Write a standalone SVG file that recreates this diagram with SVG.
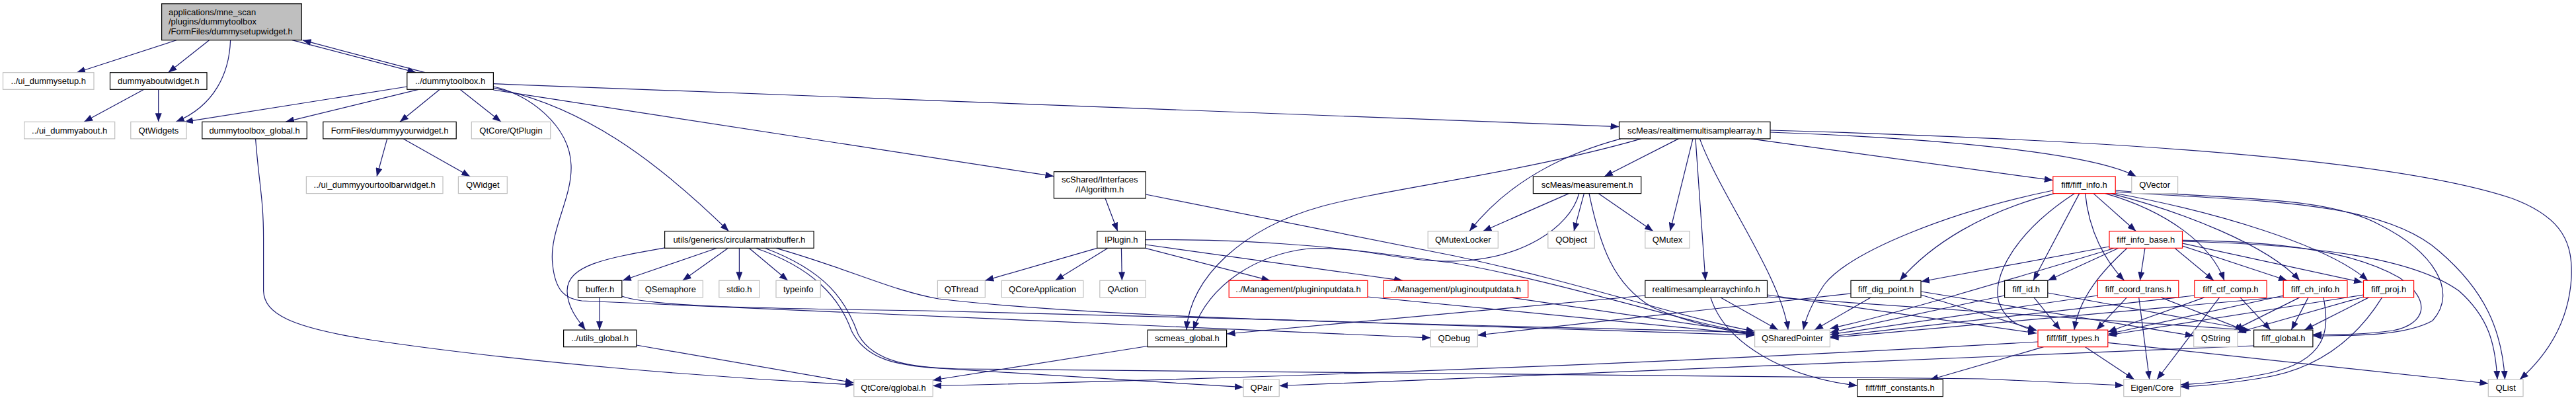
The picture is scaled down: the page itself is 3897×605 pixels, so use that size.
<svg xmlns="http://www.w3.org/2000/svg" width="3897" height="605" viewBox="0 0 3897 605">
<style>
.e{fill:none;stroke:#191970;stroke-width:1.2;marker-end:url(#ah)}
rect{fill:#fff;stroke-width:1.2}
.b{stroke:#000}
.gy{stroke:#bfbfbf}
.rd{stroke:#ff0000}
.main{fill:#bfbfbf;stroke:#000}
text{font-family:"Liberation Sans",Arial,sans-serif;font-size:13px;fill:#000}
.c{text-anchor:middle}
</style>
<defs>
<marker id="ah" viewBox="0 0 13 10" refX="13" refY="5" markerWidth="13" markerHeight="10" markerUnits="userSpaceOnUse" orient="auto"><path d="M0,0 L13,5 L0,10 z" fill="#191970"/></marker>
</defs>
<rect x="0" y="0" width="3897" height="605" style="fill:#fff;stroke:none"/>
<g id="connectors">
<path class="e" d="M267,60.7 L116,109.7"/>
<path class="e" d="M316.5,60.7 L254.5,109.7"/>
<path class="e" d="M348.6,60.7 C347,110 325,160 266,184.3"/>
<path class="e" d="M442,60.7 L629.4,109.7"/>
<path class="e" d="M642.8,109.7 L457.6,60.7"/>
<path class="e" d="M217.8,135.3 L127.2,184.3"/>
<path class="e" d="M239.7,135.3 L239.7,184.3"/>
<path class="e" d="M616,131 L279,184.3"/>
<path class="e" d="M633,135.3 L432,184.3"/>
<path class="e" d="M665.3,135.3 L605,184.3"/>
<path class="e" d="M696,135.3 L758,184.3"/>
<path class="e" d="M746.4,126.7 L2449.5,191.6"/>
<path class="e" d="M746.4,133 C880,160 990,240 1102.5,349.7"/>
<path class="e" d="M746.4,136 L1594.4,266.7"/>
<path class="e" d="M746.4,131 C800,142 862,190 864,250 C866,300 830,350 836,400 C840,440 855,452 880,455 L2164.3,511"/>
<path class="e" d="M386.6,209.9 C392,280 398.6,300 398.6,360 L398.6,440 C400,475 440,495 560,514 C800,550 1100,572 1291.8,582"/>
<path class="e" d="M585.7,209.9 L570,267"/>
<path class="e" d="M610.2,209.9 L711.2,267"/>
<path class="e" d="M1084.7,375.3 L941.8,424.3"/>
<path class="e" d="M1101.5,375.3 L1032.7,424.3"/>
<path class="e" d="M1118.4,375.3 L1118.4,424.3"/>
<path class="e" d="M1133.2,375.3 L1191.8,424.3"/>
<path class="e" d="M1010.7,374 C920,390 858,400 858,440 C858,465 875,485 885.7,499.1"/>
<path class="e" d="M907,449.9 L907,499.1"/>
<path class="e" d="M940.8,448 C980,462 1100,466 1400,470 C1800,478 2300,495 2654.6,507"/>
<path class="e" d="M1174,375.3 C1280,405 1350,440 1420,452 C1700,485 2200,490 2654.6,503"/>
<path class="e" d="M1143,375.3 C1230,405 1270,450 1288,500 C1310,545 1360,553 1420,557 C1650,572 1800,582 1881.1,585.7"/>
<path class="e" d="M1157,375.3 C1250,410 1280,455 1298,505 C1320,548 1380,556 1450,558 L2200,565 L3000,573 L3212.8,583"/>
<path class="e" d="M962.8,522 L1291.8,579"/>
<path class="e" d="M1672,300 L1690.8,349.7"/>
<path class="e" d="M1733.2,294 L2200,387 C2400,430 2560,485 2654.6,501"/>
<path class="e" d="M1659.7,375.3 L1490.3,424.3"/>
<path class="e" d="M1676,375.3 L1596.4,424.3"/>
<path class="e" d="M1696.4,375.3 L1697.4,424.3"/>
<path class="e" d="M1732.7,375.3 L1921.4,424.3"/>
<path class="e" d="M1732.7,370 L2122,424.3"/>
<path class="e" d="M1732.7,362.7 C1950,360 2100,385 2200,398 C2380,430 2560,492 2654.6,504"/>
<path class="e" d="M2068.9,449 L2654.6,506"/>
<path class="e" d="M2284,449.9 L2654.6,504"/>
<path class="e" d="M1736.2,523.5 L1411.2,575"/>
<path class="e" d="M2539.3,209.9 L2427,267"/>
<path class="e" d="M2452,209.9 C2340,240 2270,290 2223,349.7"/>
<path class="e" d="M2483,209.9 C2300,262 2100,285 2000,312 C1880,345 1800,420 1795,499.1"/>
<path class="e" d="M2388.8,292.6 C2375,345 2300,393 2200,395 C2120,397 2060,372 1980,376 C1900,385 1830,430 1805,499.1"/>
<path class="e" d="M2561,209.9 L2526.5,349.7"/>
<path class="e" d="M2565,209.9 L2580,424.3"/>
<path class="e" d="M2571.4,209.9 C2600,290 2695,420 2705,499.1"/>
<path class="e" d="M2678,200 C2900,208 3160,228 3231.7,267"/>
<path class="e" d="M2648,209.9 L3105.8,272.7"/>
<path class="e" d="M2678,197 C3200,212 3620,240 3800,300 C3880,330 3892,370 3890,420 C3886,490 3850,540 3812,574"/>
<path class="e" d="M2373.5,292.6 L2243.4,349.7"/>
<path class="e" d="M2396.4,292.6 L2381,349.7"/>
<path class="e" d="M2404,292.6 C2420,370 2440,430 2500,465 C2560,490 2610,500 2654.6,506"/>
<path class="e" d="M2418,292.6 L2501,349.7"/>
<path class="e" d="M2488.8,447 L1855.6,505"/>
<path class="e" d="M2603,449.9 L2690,499.1"/>
<path class="e" d="M2587.8,449.9 C2610,520 2700,570 2809.7,583.3"/>
<path class="e" d="M2673.5,446 L3081,504"/>
<path class="e" d="M2673.5,449 L3405,499.5"/>
<path class="e" d="M2800,444 L2235.2,507"/>
<path class="e" d="M2830,449.9 L2745,499.1"/>
<path class="e" d="M2906,446 L3081,499.5"/>
<path class="e" d="M2906,441 L3318.7,508"/>
<path class="e" d="M3108,292.6 C3000,320 2920,370 2874,424.3"/>
<path class="e" d="M3105.8,288 C2950,320 2800,380 2760,430 C2740,460 2732,480 2728,499.1"/>
<path class="e" d="M3138.6,292.6 C3050,350 3010,420 3025,460 C3035,485 3055,495 3081,500"/>
<path class="e" d="M3145.7,292.6 L3076,424.3"/>
<path class="e" d="M3154.6,292.6 C3160,350 3185,395 3213.6,424.3"/>
<path class="e" d="M3167,292.6 L3231.4,349.7"/>
<path class="e" d="M3185,292.6 C3280,320 3345,370 3365,424.3"/>
<path class="e" d="M3193,292.6 C3300,320 3430,370 3479,424.3"/>
<path class="e" d="M3198,292 C3350,320 3520,370 3582,424.3"/>
<path class="e" d="M3200.2,288 C3350,300 3520,295 3600,340 C3680,380 3720,440 3680,485 C3640,508 3560,508 3498.9,508"/>
<path class="e" d="M3200.2,290 C3400,305 3600,300 3690,380 C3760,440 3785,500 3789.5,574"/>
<path class="e" d="M3191,373 L2906,426"/>
<path class="e" d="M3205,375.3 L3098,424.3"/>
<path class="e" d="M3218,375.3 C3180,410 3145,450 3138,499.1"/>
<path class="e" d="M3244.9,375.3 L3237.4,424.3"/>
<path class="e" d="M3290,375.3 L3349,424.3"/>
<path class="e" d="M3301.5,372 L3460,424.3"/>
<path class="e" d="M3301.5,368 L3574,427"/>
<path class="e" d="M3301.5,363.3 C3450,365 3560,380 3630,420 C3680,455 3670,490 3620,500 C3580,506 3540,506 3498.9,506"/>
<path class="e" d="M3301.5,365 C3500,370 3650,390 3720,440 C3765,480 3775,520 3778,574"/>
<path class="e" d="M3199,375.3 C3050,420 2850,480 2768.4,497"/>
<path class="e" d="M3077,449.9 L3117,499.1"/>
<path class="e" d="M3032.6,447 L2768.4,503"/>
<path class="e" d="M3097.8,443 L3400,498.5"/>
<path class="e" d="M3217.4,449.9 L3171.6,499.1"/>
<path class="e" d="M3235.7,449.9 L3251.7,574"/>
<path class="e" d="M3268.9,449.9 L3394.7,499.1"/>
<path class="e" d="M3173.3,447 L2768.4,506"/>
<path class="e" d="M3334.7,449.9 L3188.8,502"/>
<path class="e" d="M3357.6,449.9 L3263,574"/>
<path class="e" d="M3389,449.9 L3434.8,499.1"/>
<path class="e" d="M3319.8,447 L2768.4,509"/>
<path class="e" d="M3454.8,447 L3190,505"/>
<path class="e" d="M3479,449.9 L3380,499.1"/>
<path class="e" d="M3492,449.9 L3466.3,499.1"/>
<path class="e" d="M3514.9,449.9 C3525,500 3520,545 3430,565 C3380,575 3340,580 3298.6,582"/>
<path class="e" d="M3454.2,449 L2768.4,511"/>
<path class="e" d="M3575.5,446 L3188.8,507"/>
<path class="e" d="M3583.5,449.9 L3486.3,499.1"/>
<path class="e" d="M3603.6,449.9 C3560,520 3500,560 3420,572 C3370,580 3330,584 3298.6,585"/>
<path class="e" d="M3575.5,449 L3385,503"/>
<path class="e" d="M3154.5,524.7 L3228.8,574"/>
<path class="e" d="M3188.8,518.3 L3764.3,580"/>
<path class="e" d="M3091.5,524.7 L2919.4,574.5"/>
<path class="e" d="M3083,517 C2600,545 2000,570 1411.2,583.5"/>
<path class="e" d="M3409.6,523 C3100,540 2500,560 1935.2,583.5"/>
</g>
<g id="n1"><rect class="main" x="244.6" y="5.7" width="211.7" height="55"/><text x="255" y="22.5">applications/mne_scan</text><text x="255" y="37">/plugins/dummytoolbox</text><text x="255" y="51.5">/FormFiles/dummysetupwidget.h</text></g>
<g id="n2"><rect class="gy" x="4.5" y="109.7" width="137.5" height="25.6"/><text class="c" x="73.25" y="127">../ui_dummysetup.h</text></g>
<g id="n3"><rect class="b" x="166.5" y="109.7" width="146.5" height="25.6"/><text class="c" x="239.75" y="127">dummyaboutwidget.h</text></g>
<g id="n4"><rect class="b" x="615.8" y="109.7" width="130.6" height="25.6"/><text class="c" x="681.1" y="127">../dummytoolbox.h</text></g>
<g id="n5"><rect class="gy" x="36.6" y="184.3" width="137.1" height="25.6"/><text class="c" x="105.15" y="201.6">../ui_dummyabout.h</text></g>
<g id="n6"><rect class="gy" x="197.8" y="184.3" width="84.3" height="25.6"/><text class="c" x="239.95" y="201.6">QtWidgets</text></g>
<g id="n7"><rect class="b" x="305.8" y="184.3" width="158.5" height="25.6"/><text class="c" x="385.05" y="201.6">dummytoolbox_global.h</text></g>
<g id="n8"><rect class="b" x="488.8" y="184.3" width="201.4" height="25.6"/><text class="c" x="589.5" y="201.6">FormFiles/dummyyourwidget.h</text></g>
<g id="n9"><rect class="gy" x="713.3" y="184.3" width="119.4" height="25.6"/><text class="c" x="773" y="201.6">QtCore/QtPlugin</text></g>
<g id="n10"><rect class="b" x="2449.5" y="184.3" width="228.5" height="25.6"/><text class="c" x="2563.75" y="201.6">scMeas/realtimemultisamplearray.h</text></g>
<g id="n11"><rect class="gy" x="463.4" y="267" width="206.6" height="25.6"/><text class="c" x="566.7" y="284.3">../ui_dummyyourtoolbarwidget.h</text></g>
<g id="n12"><rect class="gy" x="693.4" y="267" width="73.9" height="25.6"/><text class="c" x="730.35" y="284.3">QWidget</text></g>
<g id="n13"><rect class="b" x="1594.4" y="259.7" width="138.8" height="40.3"/><text class="c" x="1663.8" y="276.3">scShared/Interfaces</text><text class="c" x="1663.8" y="291.3">/IAlgorithm.h</text></g>
<g id="n14"><rect class="b" x="2319.4" y="267" width="163.3" height="25.6"/><text class="c" x="2401.05" y="284.3">scMeas/measurement.h</text></g>
<g id="n15"><rect class="rd" x="3105.8" y="267" width="94.4" height="25.6"/><text class="c" x="3153" y="284.3">fiff/fiff_info.h</text></g>
<g id="n16"><rect class="gy" x="3224.8" y="267" width="69.8" height="25.6"/><text class="c" x="3259.7" y="284.3">QVector</text></g>
<g id="n17"><rect class="b" x="1005.6" y="349.7" width="225.5" height="25.6"/><text class="c" x="1118.35" y="367">utils/generics/circularmatrixbuffer.h</text></g>
<g id="n18"><rect class="b" x="1659.7" y="349.7" width="73" height="25.6"/><text class="c" x="1696.2" y="367">IPlugin.h</text></g>
<g id="n19"><rect class="gy" x="2160.2" y="349.7" width="106.1" height="25.6"/><text class="c" x="2213.25" y="367">QMutexLocker</text></g>
<g id="n20"><rect class="gy" x="2341.8" y="349.7" width="70.4" height="25.6"/><text class="c" x="2377" y="367">QObject</text></g>
<g id="n21"><rect class="gy" x="2488.8" y="349.7" width="67.3" height="25.6"/><text class="c" x="2522.45" y="367">QMutex</text></g>
<g id="n22"><rect class="rd" x="3191" y="349.7" width="110.5" height="25.6"/><text class="c" x="3246.25" y="367">fiff_info_base.h</text></g>
<g id="n23"><rect class="b" x="874.5" y="424.3" width="66.3" height="25.6"/><text class="c" x="907.65" y="441.6">buffer.h</text></g>
<g id="n24"><rect class="gy" x="965.3" y="424.3" width="98" height="25.6"/><text class="c" x="1014.3" y="441.6">QSemaphore</text></g>
<g id="n25"><rect class="gy" x="1087.8" y="424.3" width="61.2" height="25.6"/><text class="c" x="1118.4" y="441.6">stdio.h</text></g>
<g id="n26"><rect class="gy" x="1174" y="424.3" width="67.3" height="25.6"/><text class="c" x="1207.65" y="441.6">typeinfo</text></g>
<g id="n27"><rect class="gy" x="1418.4" y="424.3" width="71.9" height="25.6"/><text class="c" x="1454.35" y="441.6">QThread</text></g>
<g id="n28"><rect class="gy" x="1515.3" y="424.3" width="123.5" height="25.6"/><text class="c" x="1577.05" y="441.6">QCoreApplication</text></g>
<g id="n29"><rect class="gy" x="1663.8" y="424.3" width="69.4" height="25.6"/><text class="c" x="1698.5" y="441.6">QAction</text></g>
<g id="n30"><rect class="rd" x="1859.2" y="424.3" width="209.7" height="25.6"/><text class="c" x="1964.05" y="441.6">../Management/plugininputdata.h</text></g>
<g id="n31"><rect class="rd" x="2092.9" y="424.3" width="218.8" height="25.6"/><text class="c" x="2202.3" y="441.6">../Management/pluginoutputdata.h</text></g>
<g id="n32"><rect class="b" x="2488.8" y="424.3" width="184.7" height="25.6"/><text class="c" x="2581.15" y="441.6">realtimesamplearraychinfo.h</text></g>
<g id="n33"><rect class="b" x="2800" y="424.3" width="106" height="25.6"/><text class="c" x="2853" y="441.6">fiff_dig_point.h</text></g>
<g id="n34"><rect class="b" x="3032.6" y="424.3" width="65.2" height="25.6"/><text class="c" x="3065.2" y="441.6">fiff_id.h</text></g>
<g id="n35"><rect class="rd" x="3173.3" y="424.3" width="122.5" height="25.6"/><text class="c" x="3234.55" y="441.6">fiff_coord_trans.h</text></g>
<g id="n36"><rect class="rd" x="3319.8" y="424.3" width="109.3" height="25.6"/><text class="c" x="3374.45" y="441.6">fiff_ctf_comp.h</text></g>
<g id="n37"><rect class="rd" x="3454.2" y="424.3" width="96.8" height="25.6"/><text class="c" x="3502.6" y="441.6">fiff_ch_info.h</text></g>
<g id="n38"><rect class="rd" x="3575.5" y="424.3" width="76.1" height="25.6"/><text class="c" x="3613.55" y="441.6">fiff_proj.h</text></g>
<g id="n39"><rect class="b" x="852.6" y="499.1" width="110.2" height="25.6"/><text class="c" x="907.7" y="516.4">../utils_global.h</text></g>
<g id="n40"><rect class="b" x="1736.2" y="499.1" width="119.4" height="25.6"/><text class="c" x="1795.9" y="516.4">scmeas_global.h</text></g>
<g id="n41"><rect class="gy" x="2164.3" y="499.1" width="70.9" height="25.6"/><text class="c" x="2199.75" y="516.4">QDebug</text></g>
<g id="n42"><rect class="gy" x="2654.6" y="499.1" width="113.8" height="25.6"/><text class="c" x="2711.5" y="516.4">QSharedPointer</text></g>
<g id="n43"><rect class="rd" x="3083" y="499.1" width="105.8" height="25.6"/><text class="c" x="3135.9" y="516.4">fiff/fiff_types.h</text></g>
<g id="n44"><rect class="gy" x="3318.7" y="499.1" width="66.3" height="25.6"/><text class="c" x="3351.85" y="516.4">QString</text></g>
<g id="n45"><rect class="b" x="3409.6" y="499.1" width="89.3" height="25.6"/><text class="c" x="3454.25" y="516.4">fiff_global.h</text></g>
<g id="n46"><rect class="gy" x="1291.8" y="574" width="119.4" height="25.6"/><text class="c" x="1351.5" y="591.3">QtCore/qglobal.h</text></g>
<g id="n47"><rect class="gy" x="1881.1" y="574" width="54.1" height="25.6"/><text class="c" x="1908.15" y="591.3">QPair</text></g>
<g id="n48"><rect class="b" x="2809.7" y="574" width="129.6" height="25.6"/><text class="c" x="2874.5" y="591.3">fiff/fiff_constants.h</text></g>
<g id="n49"><rect class="gy" x="3212.8" y="574" width="85.8" height="25.6"/><text class="c" x="3255.7" y="591.3">Eigen/Core</text></g>
<g id="n50"><rect class="gy" x="3764.3" y="574" width="52.7" height="25.6"/><text class="c" x="3790.65" y="591.3">QList</text></g>
</svg>
